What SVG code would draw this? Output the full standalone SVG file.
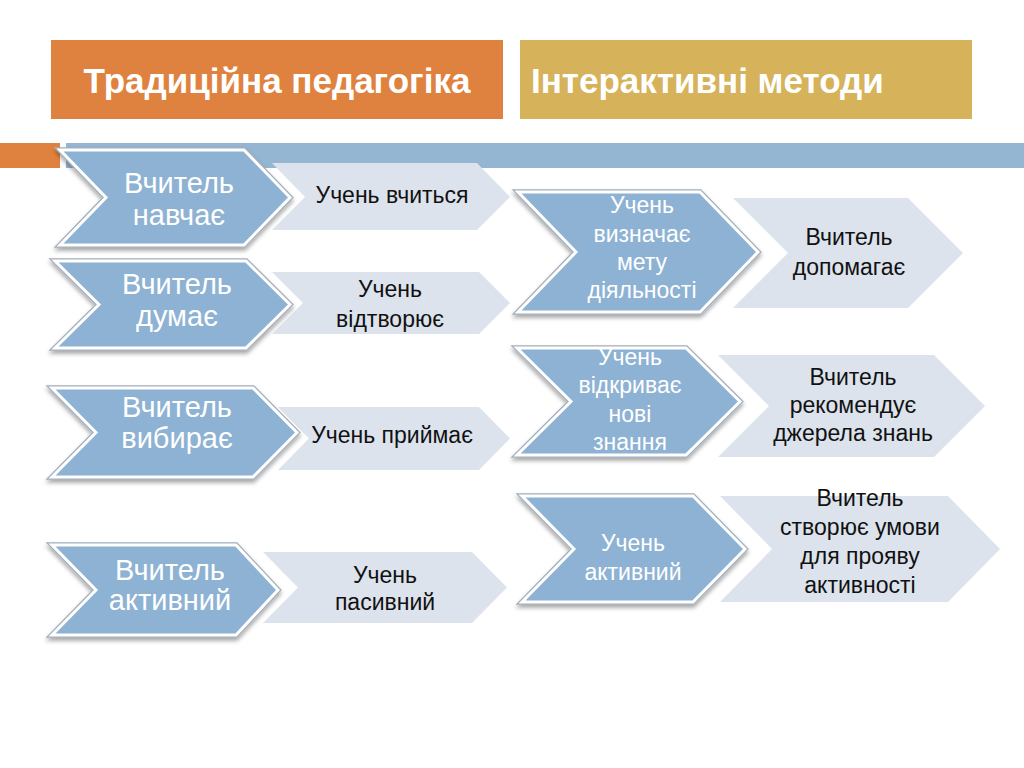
<svg xmlns="http://www.w3.org/2000/svg" width="1024" height="768" viewBox="0 0 1024 768">
  <defs>
    <filter id="shadow" x="-10%" y="-10%" width="120%" height="130%">
      <feDropShadow dx="0" dy="3" stdDeviation="2" flood-color="#000" flood-opacity="0.35"/>
    </filter>
    <style>
      .hdr { font-family: "Liberation Sans", Arial, sans-serif; font-weight: bold; font-size: 35px; fill: #FFFFFF; }
      .dark-outer { fill: none; stroke: #A3AFBB; stroke-width: 5.5; stroke-linejoin: miter; }
      .dark { fill: #8EB2D3; stroke: #FFFFFF; stroke-width: 3; stroke-linejoin: miter; }
      .light { fill: #DCE3ED; }
      .tw { font-family: "Liberation Sans", Arial, sans-serif; fill: #FFFFFF; text-anchor: middle; }
      .tb { font-family: "Liberation Sans", Arial, sans-serif; fill: #111111; text-anchor: middle; font-size: 23px; }
      .big { font-size: 29px; }
      .mid { font-size: 23px; }
    </style>
  </defs>

  <rect x="0" y="0" width="1024" height="768" fill="#FFFFFF"/>

  <!-- headers -->
  <g id="header-traditional">
    <rect x="51" y="40" width="452" height="79" fill="#E0823F"/>
    <text class="hdr" x="277" y="93" text-anchor="middle">Традиційна педагогіка</text>
  </g>
  <g id="header-interactive">
    <rect x="520" y="40" width="452" height="79" fill="#D6B25A"/>
    <text class="hdr" x="531" y="93">Інтерактивні методи</text>
  </g>

  <!-- decorative bars -->
  <g id="bars">
    <rect x="0" y="143" width="60" height="25" fill="#E0823F"/>
    <rect x="66" y="143" width="958" height="25" fill="#94B6D2"/>
  </g>

  <g id="connectors"/>

  <!-- left column -->
  <g id="row-l1">
    <polygon class="light" points="272,163 477,163 510,197 477,230 272,230 305,197"/>
    <g filter="url(#shadow)">
      <polygon class="dark-outer" points="60,150 244,150 290,197.5 244,245 60,245 106,197.5"/>
      <polygon class="dark" points="60,150 244,150 290,197.5 244,245 60,245 106,197.5"/>
    </g>
    <text class="tw big" x="179" y="193">Вчитель</text>
    <text class="tw big" x="179" y="225">навчає</text>
    <text class="tb" x="392" y="203">Учень вчиться</text>
  </g>

  <g id="row-l2">
    <polygon class="light" points="272,272 479,272 510,303 479,334 272,334 303,303"/>
    <g filter="url(#shadow)">
      <polygon class="dark-outer" points="55,261 246,261 290,304.5 246,348 55,348 99,304.5"/>
      <polygon class="dark" points="55,261 246,261 290,304.5 246,348 55,348 99,304.5"/>
    </g>
    <text class="tw big" x="177" y="294">Вчитель</text>
    <text class="tw big" x="177" y="326">думає</text>
    <text class="tb" x="390" y="297">Учень</text>
    <text class="tb" x="390" y="327">відтворює</text>
  </g>

  <g id="row-l3">
    <polygon class="light" points="278,407 479,407 510,438.5 479,470 278,470 309,438.5"/>
    <g filter="url(#shadow)">
      <polygon class="dark-outer" points="52,388 253,388 297,432.5 253,477 52,477 96,432.5"/>
      <polygon class="dark" points="52,388 253,388 297,432.5 253,477 52,477 96,432.5"/>
    </g>
    <text class="tw big" x="177" y="417">Вчитель</text>
    <text class="tw big" x="177" y="448">вибирає</text>
    <text class="tb" x="392" y="443">Учень приймає</text>
  </g>

  <g id="row-l4">
    <polygon class="light" points="263,552 472,552 507,587.5 472,623 263,623 298,587.5"/>
    <g filter="url(#shadow)">
      <polygon class="dark-outer" points="52,545 236,545 278,590 236,635 52,635 96,590"/>
      <polygon class="dark" points="52,545 236,545 278,590 236,635 52,635 96,590"/>
    </g>
    <text class="tw big" x="170" y="580">Вчитель</text>
    <text class="tw big" x="170" y="610">активний</text>
    <text class="tb" x="385" y="583">Учень</text>
    <text class="tb" x="385" y="610">пасивний</text>
  </g>

  <!-- right column -->
  <g id="row-r1">
    <polygon class="light" points="733,198 908,198 963,253 908,308 733,308 788,253"/>
    <g filter="url(#shadow)">
      <polygon class="dark-outer" points="518,192 700,192 758,252 700,312 518,312 576,252"/>
      <polygon class="dark" points="518,192 700,192 758,252 700,312 518,312 576,252"/>
    </g>
    <text class="tw mid" x="642" y="213">Учень</text>
    <text class="tw mid" x="642" y="242">визначає</text>
    <text class="tw mid" x="642" y="270">мету</text>
    <text class="tw mid" x="642" y="298">діяльності</text>
    <text class="tb" x="849" y="245">Вчитель</text>
    <text class="tb" x="849" y="275">допомагає</text>
  </g>

  <g id="row-r2">
    <polygon class="light" points="718,355 934,355 985,406 934,457 718,457 769,406"/>
    <g filter="url(#shadow)">
      <polygon class="dark-outer" points="517,348 686,348 740,401.5 686,455 517,455 571,401.5"/>
      <polygon class="dark" points="517,348 686,348 740,401.5 686,455 517,455 571,401.5"/>
    </g>
    <text class="tw mid" x="630" y="365">Учень</text>
    <text class="tw mid" x="630" y="393">відкриває</text>
    <text class="tw mid" x="630" y="422">нові</text>
    <text class="tw mid" x="630" y="450">знання</text>
    <text class="tb" x="853" y="385">Вчитель</text>
    <text class="tb" x="853" y="413">рекомендує</text>
    <text class="tb" x="853" y="441">джерела знань</text>
  </g>

  <g id="row-r3">
    <polygon class="light" points="720,496 948,496 1000,549 948,602 720,602 772,549"/>
    <g filter="url(#shadow)">
      <polygon class="dark-outer" points="522,496 693,496 745,549 693,602 522,602 574,549"/>
      <polygon class="dark" points="522,496 693,496 745,549 693,602 522,602 574,549"/>
    </g>
    <text class="tw mid" x="633" y="551">Учень</text>
    <text class="tw mid" x="633" y="580">активний</text>
    <text class="tb" x="860" y="506">Вчитель</text>
    <text class="tb" x="860" y="535">створює умови</text>
    <text class="tb" x="860" y="564">для прояву</text>
    <text class="tb" x="860" y="593">активності</text>
  </g>
</svg>
